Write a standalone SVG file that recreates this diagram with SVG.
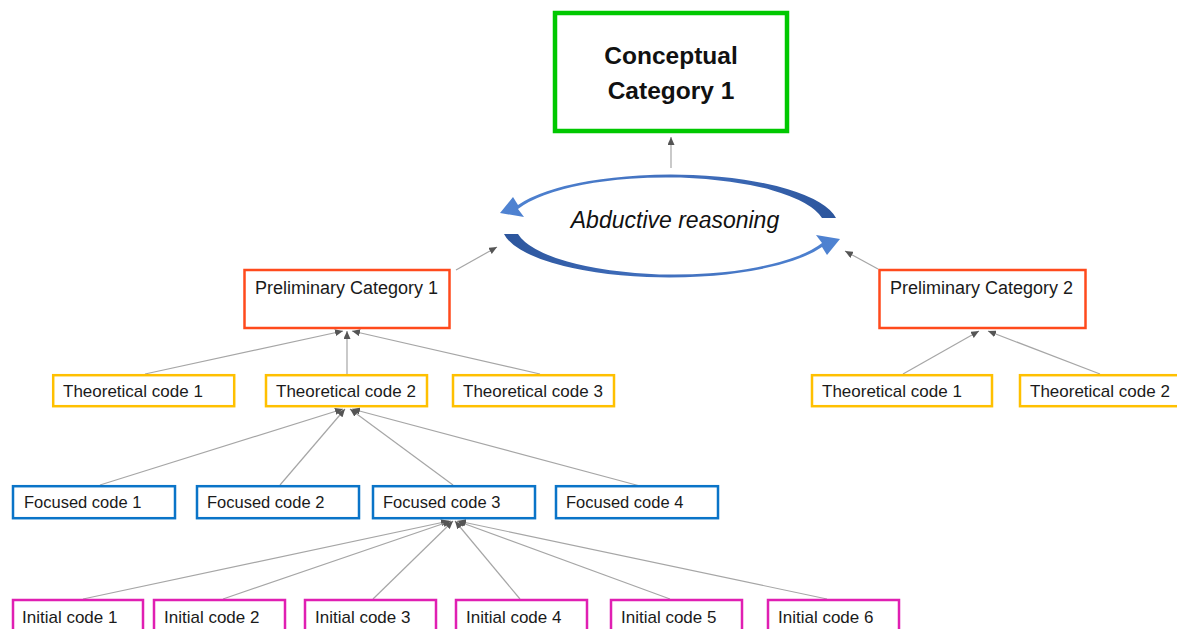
<svg xmlns="http://www.w3.org/2000/svg" width="1177" height="629" viewBox="0 0 1177 629">
  <defs>
    <marker id="ah" viewBox="0 0 8 7" refX="8" refY="3.5" markerWidth="8" markerHeight="7" markerUnits="userSpaceOnUse" orient="auto">
      <path d="M0,0 L8,3.5 L0,7 z" fill="#555555"/>
    </marker>
    <linearGradient id="blueband" x1="0" y1="0" x2="1" y2="0">
      <stop offset="0" stop-color="#4f83d2"/>
      <stop offset="0.6" stop-color="#3f6dbb"/>
      <stop offset="1" stop-color="#2c559c"/>
    </linearGradient>
  </defs>
  <style>
    .box{fill:#ffffff;stroke-width:2.5}
    .cc{stroke:#00c800;stroke-width:4.5}
    .pc{stroke:#ff4a1c}
    .tc{stroke:#ffc000}
    .fc{stroke:#0a74c8}
    .ic{stroke:#e01fb2}
    .lbl{font-family:"Liberation Sans",Arial,sans-serif;font-size:17px;fill:#1a1a1a}
    .pcl{font-size:18px}
    .fcl{font-size:16.5px}
    .big{font-family:"Liberation Sans",Arial,sans-serif;font-size:24.5px;font-weight:bold;fill:#111111;text-anchor:middle}
    .ital{font-family:"Liberation Sans",Arial,sans-serif;font-size:23px;font-style:italic;fill:#111111;text-anchor:middle}
    .conn{stroke:#a6a6a6;stroke-width:1.2;fill:none;marker-end:url(#ah)}
  </style>
  <rect width="1177" height="629" fill="#ffffff"/>

  <!-- connectors -->
  <g id="connectors">
    <line class="conn" x1="671" y1="168" x2="671" y2="137"/>
    <line class="conn" x1="456" y1="270" x2="497" y2="247"/>
    <line class="conn" x1="878" y1="269" x2="845" y2="251"/>
    <line class="conn" x1="145" y1="374" x2="343" y2="331"/>
    <line class="conn" x1="347" y1="374" x2="347" y2="331"/>
    <line class="conn" x1="540" y1="374" x2="352" y2="331"/>
    <line class="conn" x1="903" y1="374" x2="979" y2="331"/>
    <line class="conn" x1="1100" y1="374" x2="988" y2="331"/>
    <line class="conn" x1="100" y1="485" x2="343" y2="409"/>
    <line class="conn" x1="280" y1="485" x2="345" y2="409"/>
    <line class="conn" x1="453" y1="485" x2="350" y2="409"/>
    <line class="conn" x1="640" y1="486" x2="352" y2="409"/>
    <line class="conn" x1="83" y1="599" x2="449" y2="521"/>
    <line class="conn" x1="223" y1="599" x2="451" y2="521"/>
    <line class="conn" x1="373" y1="599" x2="453" y2="521"/>
    <line class="conn" x1="520" y1="599" x2="455" y2="521"/>
    <line class="conn" x1="670" y1="599" x2="457" y2="521"/>
    <line class="conn" x1="827" y1="599" x2="458" y2="521"/>
  </g>

  <!-- conceptual category -->
  <g id="conceptual-category-1">
    <rect class="box cc" x="555" y="13" width="232" height="118"/>
    <text class="big" x="671" y="64">Conceptual</text>
    <text class="big" x="671" y="99">Category 1</text>
  </g>

  <!-- abductive reasoning cycle: two tapered curved arrows, the lower one is the upper rotated half a turn -->
  <g id="abductive-reasoning">
    <path fill="url(#blueband)" d="M836,218 A167 51 0 0 0 518,205 L513,197 L500,213 L524,217 L518,209 A159 50 0 0 1 822,218 Z"/>
    <path fill="url(#blueband)" transform="rotate(180 670 226)" d="M836,218 A167 51 0 0 0 518,205 L513,197 L500,213 L524,217 L518,209 A159 50 0 0 1 822,218 Z"/>
    <text class="ital" x="675" y="228">Abductive reasoning</text>
  </g>

  <!-- preliminary categories -->
  <g id="preliminary-category-1">
    <rect class="box pc" x="244.5" y="270" width="205" height="58"/>
    <text class="lbl pcl" x="255" y="294">Preliminary Category 1</text>
  </g>
  <g id="preliminary-category-2">
    <rect class="box pc" x="879.5" y="270" width="206" height="58"/>
    <text class="lbl pcl" x="890" y="294">Preliminary Category 2</text>
  </g>

  <!-- theoretical codes -->
  <g id="theoretical-code-1a">
    <rect class="box tc" x="53.2" y="375.2" width="181" height="31"/>
    <text class="lbl" x="63" y="396.5">Theoretical code 1</text>
  </g>
  <g id="theoretical-code-2a">
    <rect class="box tc" x="266" y="375.2" width="161" height="31"/>
    <text class="lbl" x="276" y="396.5">Theoretical code 2</text>
  </g>
  <g id="theoretical-code-3a">
    <rect class="box tc" x="453" y="375.2" width="161" height="31"/>
    <text class="lbl" x="463" y="396.5">Theoretical code 3</text>
  </g>
  <g id="theoretical-code-1b">
    <rect class="box tc" x="812" y="375.2" width="180" height="31"/>
    <text class="lbl" x="822" y="396.5">Theoretical code 1</text>
  </g>
  <g id="theoretical-code-2b">
    <rect class="box tc" x="1020" y="375.2" width="180" height="31"/>
    <text class="lbl" x="1030" y="396.5">Theoretical code 2</text>
  </g>

  <!-- focused codes -->
  <g id="focused-code-1">
    <rect class="box fc" x="13" y="486.2" width="162" height="32"/>
    <text class="lbl fcl" x="24" y="508">Focused code 1</text>
  </g>
  <g id="focused-code-2">
    <rect class="box fc" x="197" y="486.2" width="162" height="32"/>
    <text class="lbl fcl" x="207" y="508">Focused code 2</text>
  </g>
  <g id="focused-code-3">
    <rect class="box fc" x="373" y="486.2" width="162" height="32"/>
    <text class="lbl fcl" x="383" y="508">Focused code 3</text>
  </g>
  <g id="focused-code-4">
    <rect class="box fc" x="556" y="486.2" width="162" height="32"/>
    <text class="lbl fcl" x="566" y="508">Focused code 4</text>
  </g>

  <!-- initial codes -->
  <g id="initial-code-1">
    <rect class="box ic" x="13" y="600" width="130" height="40"/>
    <text class="lbl" x="22" y="622.5">Initial code 1</text>
  </g>
  <g id="initial-code-2">
    <rect class="box ic" x="154" y="600" width="131" height="40"/>
    <text class="lbl" x="164" y="622.5">Initial code 2</text>
  </g>
  <g id="initial-code-3">
    <rect class="box ic" x="305" y="600" width="131" height="40"/>
    <text class="lbl" x="315" y="622.5">Initial code 3</text>
  </g>
  <g id="initial-code-4">
    <rect class="box ic" x="456" y="600" width="131" height="40"/>
    <text class="lbl" x="466" y="622.5">Initial code 4</text>
  </g>
  <g id="initial-code-5">
    <rect class="box ic" x="611" y="600" width="131" height="40"/>
    <text class="lbl" x="621" y="622.5">Initial code 5</text>
  </g>
  <g id="initial-code-6">
    <rect class="box ic" x="768" y="600" width="131" height="40"/>
    <text class="lbl" x="778" y="622.5">Initial code 6</text>
  </g>
</svg>
